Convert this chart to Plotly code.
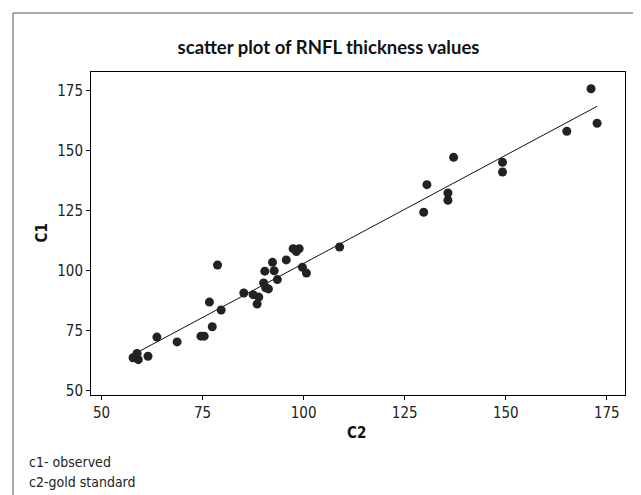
import numpy as np
import plotly.graph_objects as go

# C2 = gold standard (x), C1 = observed (y)
c2_gold = [57.8, 58.8, 59.1, 58.5, 61.5, 63.7, 68.7, 74.6, 75.4, 77.4,
           76.7, 78.7, 79.6, 85.2, 87.5, 88.9, 88.5, 90.4, 90.1, 90.6,
           91.3, 92.3, 92.7, 93.5, 95.7, 97.4, 98.9, 98.2, 99.7, 100.7,
           108.9, 129.7, 130.5, 135.7, 135.7, 137.1, 149.2, 149.2, 165.1, 171.1,
           172.6]
c1_observed = [63.6, 65.4, 62.8, 64.2, 64.2, 72.2, 70.2, 72.6, 72.6, 76.5,
               86.8, 102.3, 83.5, 90.6, 89.9, 88.9, 86.0, 99.7, 94.8, 92.8,
               92.3, 103.4, 99.9, 96.2, 104.4, 109.1, 109.1, 107.9, 101.3, 98.9,
               109.8, 124.3, 135.8, 132.3, 129.3, 147.2, 145.1, 141.1, 158.1, 175.8,
               161.4]
tick_vals = [50, 75, 100, 125, 150, 175]

x = np.array(c2_gold)
y = np.array(c1_observed)
slope, intercept = np.polyfit(x, y, 1)
xfit = np.array([x.min(), x.max()])
yfit = intercept + slope * xfit

fig = go.Figure()
fig.add_trace(go.Scatter(x=xfit, y=yfit, mode="lines",
                         line=dict(color="#111111", width=1), hoverinfo="skip"))
fig.add_trace(go.Scatter(x=c2_gold, y=c1_observed, mode="markers",
                         marker=dict(color="#222222", size=9, line=dict(width=0))))

L, R, T, B = 83, 24, 64, 108
W, H = 641, 495
pw, ph = W - L - R, H - T - B

def px(xp):
    return (xp - L) / pw

def py(yp):
    return (H - B - yp) / ph

narrow = "DejaVu Sans Condensed, DejaVu Sans, sans-serif"
tick_font = dict(family=narrow, size=15, color="#222222")
fig.update_layout(
    width=W, height=H,
    margin=dict(l=L, r=R, t=T, b=B),
    paper_bgcolor="white", plot_bgcolor="white",
    showlegend=False,
    title=dict(text="<b>scatter plot of RNFL thickness values</b>",
               x=0.5, xref="container", xanchor="center",
               y=1 - 40 / H, yref="container", yanchor="middle",
               font=dict(family="Lato", size=18.5, color="#111111")),
    xaxis=dict(range=[47.4, 179.5], tickvals=tick_vals, ticks="outside",
               ticklen=4, tickcolor="black", showgrid=False, zeroline=False,
               showline=True, linecolor="black", linewidth=1, mirror=True,
               tickfont=tick_font),
    yaxis=dict(range=[48.05, 182.8], tickvals=tick_vals, ticks="outside",
               ticklen=4, tickcolor="black", showgrid=False, zeroline=False,
               showline=True, linecolor="black", linewidth=1, mirror=True,
               tickfont=tick_font),
    shapes=[dict(type="rect", xref="paper", yref="paper",
                 x0=px(5), x1=px(636), y0=py(490), y1=py(5),
                 line=dict(color="#555555", width=1))],
    annotations=[
        dict(text="<b>C1</b>", textangle=-90, xref="paper", yref="paper",
             x=px(33), y=0.5, showarrow=False, xanchor="center", yanchor="middle",
             font=dict(family=narrow, size=15, color="#111111")),
        dict(text="<b>C2</b>", xref="paper", yref="paper",
             x=px(348), y=py(425), showarrow=False, xanchor="center", yanchor="middle",
             font=dict(family=narrow, size=15, color="#111111")),
        dict(text="c1- observed", xref="paper", yref="paper",
             x=px(19), y=py(454), showarrow=False, xanchor="left", yanchor="middle",
             font=dict(family=narrow, size=14, color="#222222")),
        dict(text="c2-gold standard", xref="paper", yref="paper",
             x=px(19), y=py(474), showarrow=False, xanchor="left", yanchor="middle",
             font=dict(family=narrow, size=14, color="#222222")),
    ],
)

fig.write_html("out.html")
